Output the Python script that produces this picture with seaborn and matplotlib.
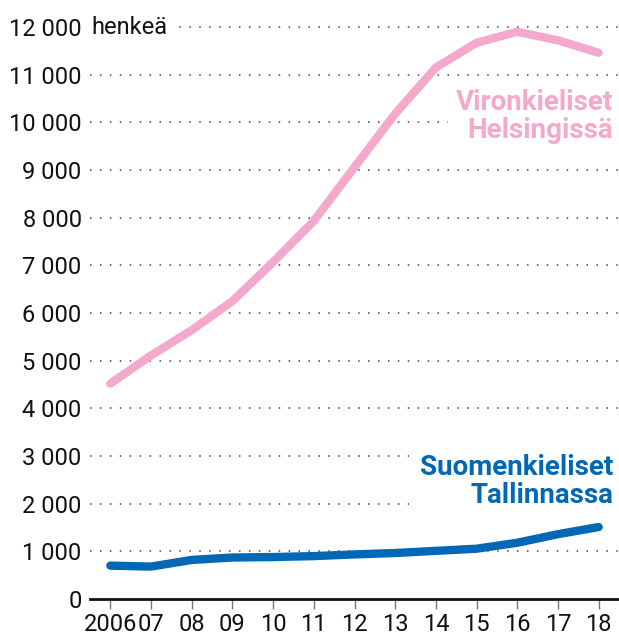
import matplotlib
matplotlib.use("Agg")
import matplotlib.pyplot as plt
import matplotlib.transforms as mtransforms
import pandas as pd
import seaborn as sns

# ---- data ----
years = list(range(2006, 2019))
year_labels = ["2006", "07", "08", "09", "10", "11", "12", "13", "14", "15", "16", "17", "18"]
viro_hki = [4520, 5110, 5640, 6250, 7070, 7930, 9060, 10180, 11150, 11670, 11900, 11720, 11460]
suomi_tln = [700, 680, 820, 870, 880, 900, 935, 965, 1010, 1055, 1180, 1360, 1510]
y_ticks = list(range(0, 13000, 1000))

pink = "#F4A9CC"
blue = "#0068B4"

df = pd.DataFrame({"vuosi": years, "viro": viro_hki, "suomi": suomi_tln})

sns.set_theme(style="white")
plt.rcParams["font.family"] = ["Roboto", "DejaVu Sans"]

fig = plt.figure(figsize=(6.19, 6.39), dpi=100)
ax = fig.add_axes([90 / 619, 40 / 639, 529 / 619, 572 / 639])

# dotted grid
for v in y_ticks[1:]:
    ax.axhline(v, color="#444444", lw=1.1, ls=(0, (1, 5.5)), zorder=0)

sns.lineplot(data=df, x="vuosi", y="viro", ax=ax, color=pink, lw=6,
             solid_capstyle="round", solid_joinstyle="round", zorder=3)
sns.lineplot(data=df, x="vuosi", y="suomi", ax=ax, color=blue, lw=6,
             solid_capstyle="round", solid_joinstyle="round", zorder=3)
for l in ax.lines:
    l.set_clip_on(False)

ax.set_xlim(2005.5, 2018.5)
ax.set_ylim(0, 12000)
ax.set_xlabel("")
ax.set_ylabel("")

ax.set_yticks(y_ticks)
ax.set_yticklabels([f"{v:,}".replace(",", " ") for v in y_ticks], fontsize=17)
ax.set_xticks(years)
ax.set_xticklabels(year_labels, fontsize=17)
ax.tick_params(axis="y", length=0, pad=6, colors="#111111")
ax.tick_params(axis="x", length=7, width=1, color="#777777", pad=3,
               labelcolor="#111111", direction="out", bottom=True)

for s in ["top", "right", "left"]:
    ax.spines[s].set_visible(False)
ax.spines["bottom"].set_color("#111111")
ax.spines["bottom"].set_linewidth(2)

# unit label next to the top tick
trans = mtransforms.blended_transform_factory(ax.transAxes, ax.transData)
ax.text(0.003, 12000, "henkeä", transform=trans, ha="left", va="center",
        fontsize=17, color="#111111", zorder=2,
        bbox=dict(facecolor="white", edgecolor="none", pad=3))

# series labels
ax.text(2018.36, 10120, "Vironkieliset\nHelsingissä", ha="right", va="center",
        fontsize=20, fontweight="bold", color=pink, linespacing=1.05, zorder=2,
        bbox=dict(facecolor="white", edgecolor="none", pad=6))
ax.text(2018.36, 2465, "Suomenkieliset\nTallinnassa", ha="right", va="center",
        fontsize=20, fontweight="bold", color=blue, linespacing=1.05, zorder=2,
        bbox=dict(facecolor="white", edgecolor="none", pad=8))

fig.savefig("out.png", dpi=100, facecolor="white")
